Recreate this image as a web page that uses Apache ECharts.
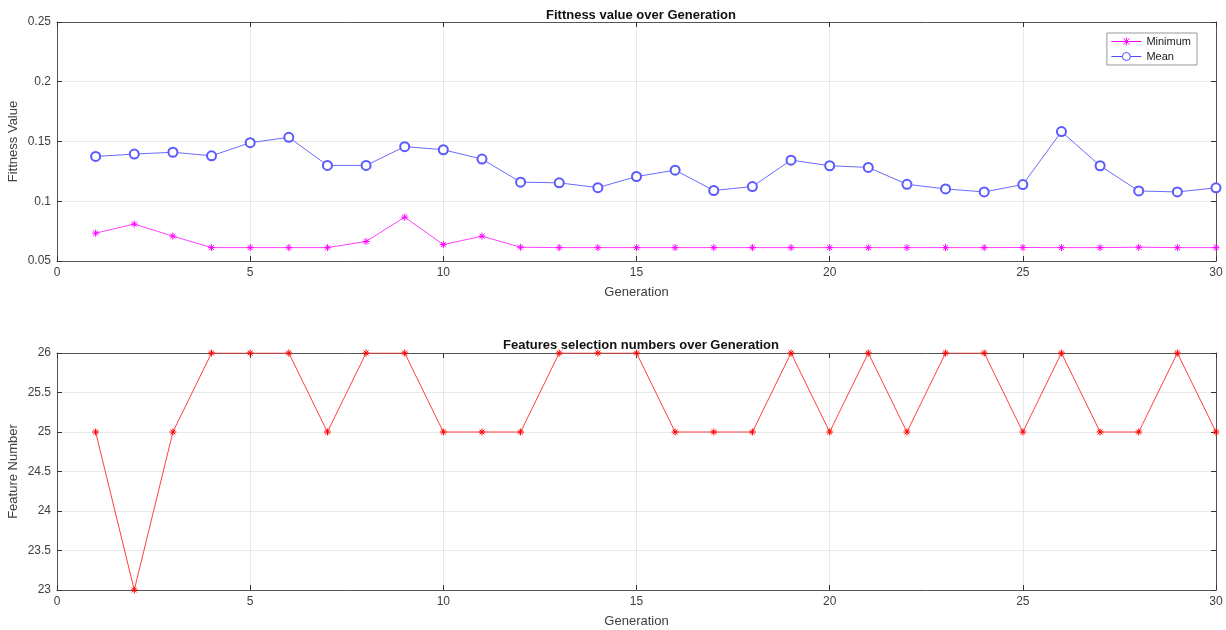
<!DOCTYPE html>
<html>
<head>
<meta charset="utf-8">
<script src="https://cdn.jsdelivr.net/npm/echarts@6/dist/echarts.min.js"></script>
<style>
html,body{margin:0;padding:0;background:#fff;}
#main{width:1226px;height:630px;}
</style>
</head>
<body>
<div id="main"></div>
<script>
// generations 1..30
var generations = [1,2,3,4,5,6,7,8,9,10,11,12,13,14,15,16,17,18,19,20,21,22,23,24,25,26,27,28,29,30];

// fitness curves
var minimumFit = [0.0733,0.0809,0.0708,0.0612,0.0612,0.0612,0.0612,0.0663,0.0867,0.0637,
                  0.0708,0.0615,0.0612,0.0612,0.0612,0.0612,0.0612,0.0612,0.0612,0.0612,
                  0.0612,0.0612,0.0612,0.0612,0.0613,0.0612,0.0612,0.0615,0.0612,0.0612];
var meanFit = [0.1375,0.1395,0.141,0.138,0.149,0.1535,0.130,0.130,0.1457,0.1431,
               0.1353,0.116,0.1154,0.1114,0.1207,0.126,0.109,0.1123,0.1344,0.1297,
               0.1283,0.1142,0.1103,0.1078,0.114,0.1583,0.1297,0.1086,0.1078,0.1112];

// number of selected features
var featureNum = [25,23,25,26,26,26,25,26,26,25,25,25,26,26,26,25,25,25,26,25,26,25,26,26,25,26,25,25,26,25];

var starPath = 'path://M5,0L5,10M0,5L10,5M1.5,1.5L8.5,8.5M8.5,1.5L1.5,8.5';
// legend icons: line with marker in the middle
var starLegend = 'path://M0,5L30,5M15,1L15,9M11,5L19,5M12,2L18,8M18,2L12,8';
var circleLegend = 'path://M0,5L11,5M19,5L30,5M19,5A4,4,0,1,1,11,5A4,4,0,1,1,19,5Z';

function pairs(ys){
	var out = [];
	for(var i=0;i<generations.length;i++) out.push([generations[i], ys[i]]);
	return out;
}

var txtColor = '#404040';
var fontFam = 'Liberation Sans, Arial, sans-serif';

function xAx(gi, pos, showLabel){
	return {
		type:'value', gridIndex:gi, position:pos, min:0, max:30, interval:5,
		name: showLabel ? 'Generation' : '', nameLocation:'middle', nameGap:25, nameMoveOverlap:false,
		nameTextStyle:{color:txtColor, fontSize:13, fontFamily:fontFam},
		axisLine:{show:true, onZero:false, lineStyle:{color:'#555', width:1}},
		axisTick:{show:true, inside:true, length:5, lineStyle:{color:'#333'}},
		axisLabel:{show:showLabel, color:txtColor, fontSize:12, fontFamily:fontFam, margin:6},
		splitLine:{show:showLabel, lineStyle:{color:'#e8e8e8', width:1}}
	};
}
function yAx(gi, pos, mn, mx, itv, name, showLabel){
	return {
		type:'value', gridIndex:gi, position:pos, min:mn, max:mx, interval:itv,
		name: showLabel ? name : '', nameLocation:'middle', nameGap:37, nameRotate:90, nameMoveOverlap:false,
		nameTextStyle:{color:txtColor, fontSize:13, fontFamily:fontFam},
		axisLine:{show:true, onZero:false, lineStyle:{color:'#555', width:1}},
		axisTick:{show:true, inside:true, length:5, lineStyle:{color:'#333'}},
		axisLabel:{show:showLabel, color:txtColor, fontSize:12, fontFamily:fontFam, margin:6},
		splitLine:{show:showLabel, lineStyle:{color:'#e8e8e8', width:1}}
	};
}

var myChart = echarts.init(document.getElementById('main'));
var option = {
	backgroundColor:'#fff',
	animation:false,
	title:[
		{text:'Fittness value over Generation', left:636, top:4, textAlign:'center',
		 textStyle:{fontSize:13, fontWeight:'bold', color:'#111', fontFamily:fontFam}},
		{text:'Features selection numbers over Generation', left:636, top:334, textAlign:'center',
		 textStyle:{fontSize:13, fontWeight:'bold', color:'#111', fontFamily:fontFam}}
	],
	legend:{
		orient:'vertical', right:29, top:33,
		data:[
			{name:'Minimum', icon:starLegend, itemStyle:{color:'#ff00ff', borderColor:'#ff00ff', borderWidth:1}},
			{name:'Mean', icon:circleLegend, itemStyle:{color:'#fff', borderColor:'#4a4aff', borderWidth:1}}
		],
		itemWidth:30, itemHeight:10, itemGap:4,
		padding:[3,6,3,4],
		borderColor:'#999', borderWidth:1, backgroundColor:'#fff',
		textStyle:{fontSize:11, color:'#222', fontFamily:fontFam}
	},
	grid:[
		{left:57, right:10, top:22, height:239, containLabel:false, outerBoundsMode:'none'},
		{left:57, right:10, top:353, height:237, containLabel:false, outerBoundsMode:'none'}
	],
	xAxis:[ xAx(0,'bottom',true), xAx(0,'top',false), xAx(1,'bottom',true), xAx(1,'top',false) ],
	yAxis:[
		yAx(0,'left',0.05,0.25,0.05,'Fittness Value',true),
		yAx(0,'right',0.05,0.25,0.05,'',false),
		yAx(1,'left',23,26,0.5,'Feature Number',true),
		yAx(1,'right',23,26,0.5,'',false)
	],
	series:[
		{
			name:'Minimum', type:'line', xAxisIndex:0, yAxisIndex:0,
			data:pairs(minimumFit),
			symbol:starPath, symbolSize:7,
			itemStyle:{color:'#ff00ff', borderColor:'#ff00ff', borderWidth:1},
			lineStyle:{color:'#ff40ff', width:1}
		},
		{
			name:'Mean', type:'line', xAxisIndex:0, yAxisIndex:0,
			data:pairs(meanFit),
			symbol:'emptyCircle', symbolSize:9,
			itemStyle:{color:'#5a5aff', borderColor:'#5a5aff', borderWidth:0.9},
			lineStyle:{color:'#6a6aff', width:1}
		},
		{
			name:'Features', type:'line', xAxisIndex:2, yAxisIndex:2,
			data:pairs(featureNum),
			symbol:starPath, symbolSize:7,
			itemStyle:{color:'#ff0000', borderColor:'#ff0000', borderWidth:1},
			lineStyle:{color:'#ff4040', width:1}
		}
	]
};
myChart.setOption(option);
</script>
</body>
</html>
